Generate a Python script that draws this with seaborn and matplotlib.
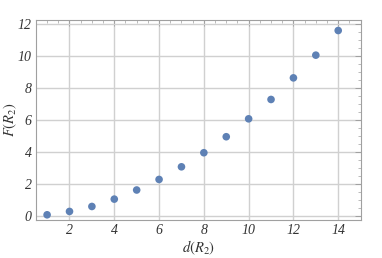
import matplotlib
matplotlib.use("Agg")
import matplotlib.pyplot as plt
from matplotlib.ticker import MultipleLocator
import seaborn as sns
import pandas as pd

# data
d_vals = [1, 2, 3, 4, 5, 6, 7, 8, 9, 10, 11, 12, 13, 14]
f_vals = [0.08, 0.29, 0.6, 1.06, 1.63, 2.29, 3.08, 3.96, 4.96, 6.08, 7.29, 8.64, 10.06, 11.6]
x_ticks = [2, 4, 6, 8, 10, 12, 14]
y_ticks = [0, 2, 4, 6, 8, 10, 12]

df = pd.DataFrame({"d": d_vals, "F": f_vals})

sns.set_style("white")
plt.rcParams["mathtext.fontset"] = "stix"
plt.rcParams["font.family"] = ["Liberation Serif", "DejaVu Serif"]

fig, ax = plt.subplots(figsize=(3.82, 2.58), dpi=100)
fig.subplots_adjust(left=0.094, right=0.944, top=0.922, bottom=0.147)

sns.scatterplot(data=df, x="d", y="F", ax=ax, color="#5E81B5", s=30,
                edgecolor="none", zorder=3)

ax.set_xlim(0.5, 15)
ax.set_ylim(-0.25, 12.25)
ax.set_xticks(x_ticks)
ax.set_yticks(y_ticks)
ax.xaxis.set_minor_locator(MultipleLocator(0.5))
ax.yaxis.set_minor_locator(MultipleLocator(0.5))
ax.set_xticklabels([str(t) for t in x_ticks], fontstyle="italic", fontsize=10)
ax.set_yticklabels([str(t) for t in y_ticks], fontstyle="italic", fontsize=10)

ax.grid(True, which="major", color="#d0d0d0", linewidth=1.0)
ax.set_axisbelow(True)
for s in ax.spines.values():
    s.set_color("#a0a0a0")
    s.set_linewidth(0.8)
ax.tick_params(which="both", direction="in", top=True, right=True,
               color="#a0a0a0", labelcolor="#333333")
ax.tick_params(which="major", length=4, width=0.7, pad=3)
ax.tick_params(which="minor", length=2, width=0.5)
ax.tick_params(axis="x", labeltop=False)
ax.tick_params(axis="y", labelright=False)

ax.set_xlabel(r"$d(R_2)$", fontsize=10.5, color="#333333")
ax.set_ylabel(r"$F(R_2)$", fontsize=10.5, color="#333333")
ax.xaxis.set_label_coords(0.5, -0.095)
ax.yaxis.set_label_coords(-0.052, 0.5)

fig.savefig("out.png", dpi=100)
